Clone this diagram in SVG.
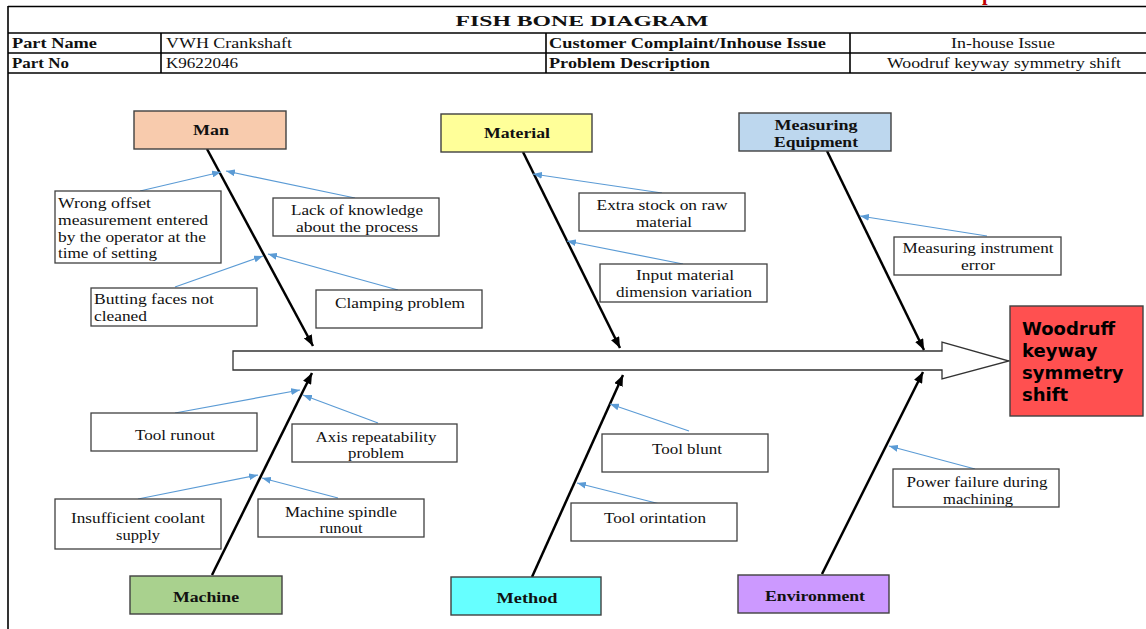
<svg xmlns="http://www.w3.org/2000/svg" width="1146" height="629" viewBox="0 0 1146 629">
<style>
.frame{stroke:#000;stroke-width:1.6;fill:none}
.t{font-family:"Liberation Serif","Times New Roman",serif;font-size:15px;fill:#111}
.b{font-weight:bold}
.m{text-anchor:middle}
.cat{stroke:#404040;stroke-width:1.4}
.box{fill:#fff;stroke:#404040;stroke-width:1.3}
.bone{stroke:#000;stroke-width:2.5;fill:none;marker-end:url(#ab)}
.sub{stroke:#5B9BD5;stroke-width:1.2;fill:none;marker-end:url(#as)}
.eff{font-family:"DejaVu Sans",Verdana,sans-serif;font-weight:bold;font-size:18px;fill:#000}
</style>
<defs>
<marker id="ab" markerUnits="userSpaceOnUse" markerWidth="11" markerHeight="9" refX="11" refY="4.5" orient="auto"><path d="M0,0 L11,4.5 L0,9 z" fill="#000"/></marker>
<marker id="as" markerUnits="userSpaceOnUse" markerWidth="9" markerHeight="7" refX="9" refY="3.5" orient="auto"><path d="M0,0 L9,3.5 L0,7 z" fill="#5B9BD5"/></marker>
</defs>
<rect width="1146" height="629" fill="#fff"/>
<text x="982" y="0" font-family="Liberation Serif,serif" font-weight="bold" font-size="20" fill="#C00000">p</text>
<g id="header">
<line class="frame" x1="8" y1="6.5" x2="1146" y2="6.5"/>
<line class="frame" x1="8" y1="33" x2="1146" y2="33"/>
<line class="frame" x1="8" y1="53" x2="1146" y2="53"/>
<line class="frame" x1="8" y1="73" x2="1146" y2="73"/>
<line class="frame" x1="8" y1="6" x2="8" y2="629"/>
<line class="frame" x1="161" y1="33" x2="161" y2="73"/>
<line class="frame" x1="546" y1="33" x2="546" y2="73"/>
<line class="frame" x1="850" y1="33" x2="850" y2="73"/>
<text class="t b m" x="582" y="26" font-size="18" textLength="253" lengthAdjust="spacingAndGlyphs">FISH  BONE  DIAGRAM</text>
<text class="t b" x="12" y="48" textLength="85" lengthAdjust="spacingAndGlyphs">Part Name</text>
<text class="t" x="166" y="48" textLength="126" lengthAdjust="spacingAndGlyphs">VWH Crankshaft</text>
<text class="t b" x="549" y="48" textLength="277" lengthAdjust="spacingAndGlyphs">Customer Complaint/Inhouse Issue</text>
<text class="t m" x="1003" y="48" textLength="104" lengthAdjust="spacingAndGlyphs">In-house Issue</text>
<text class="t b" x="12" y="68" textLength="57" lengthAdjust="spacingAndGlyphs">Part No</text>
<text class="t" x="166" y="68" textLength="72" lengthAdjust="spacingAndGlyphs">K9622046</text>
<text class="t b" x="549" y="68" textLength="161" lengthAdjust="spacingAndGlyphs">Problem Description</text>
<text class="t m" x="1004" y="68" textLength="234" lengthAdjust="spacingAndGlyphs">Woodruf keyway symmetry shift</text>
</g>
<g id="spine">
<path d="M233,351 H942 V342 L1009,361 L942,379 V370 H233 Z" fill="#fff" stroke="#333" stroke-width="1.3"/>
</g>
<g id="effect">
<rect x="1010" y="306" width="133" height="110" fill="#FF5050" stroke="#404040" stroke-width="1.4"/>
<text class="eff" x="1022" y="335">Woodruff</text>
<text class="eff" x="1022" y="357">keyway</text>
<text class="eff" x="1022" y="379">symmetry</text>
<text class="eff" x="1022" y="401">shift</text>
</g>
<g id="connectors">
<path class="bone" d="M207,149 L313,346"/>
<path class="bone" d="M523,152 L620,348"/>
<path class="bone" d="M827,151 L924,350"/>
<path class="bone" d="M212,575 L312,373"/>
<path class="bone" d="M532,577 L623,375"/>
<path class="bone" d="M822,574 L923,372"/>
<path class="sub" d="M140,191 L221,172"/>
<path class="sub" d="M355,198 L226,171"/>
<path class="sub" d="M175,287 L263,256"/>
<path class="sub" d="M398,290 L268,254"/>
<path class="sub" d="M662,193 L533,174"/>
<path class="sub" d="M683,264 L567,241"/>
<path class="sub" d="M987,236 L860,216"/>
<path class="sub" d="M175,413 L300,390"/>
<path class="sub" d="M378,423 L303,395"/>
<path class="sub" d="M138,499 L258,475"/>
<path class="sub" d="M338,498 L262,478"/>
<path class="sub" d="M689,431 L610,404"/>
<path class="sub" d="M660,504 L577,483"/>
<path class="sub" d="M975,469 L889,446"/>
</g>
<g id="cat-man"><rect class="cat" x="134" y="111" width="152" height="38" fill="#F8CBAD"/><text class="t b m" x="211" y="135" textLength="36" lengthAdjust="spacingAndGlyphs">Man</text></g>
<g id="cat-material"><rect class="cat" x="441" y="114" width="151" height="38" fill="#FFFF99"/><text class="t b m" x="517" y="138" textLength="66" lengthAdjust="spacingAndGlyphs">Material</text></g>
<g id="cat-measuring"><rect class="cat" x="739" y="113" width="152" height="38" fill="#BDD7EE"/><text class="t b m" x="816" y="130" textLength="83" lengthAdjust="spacingAndGlyphs">Measuring</text><text class="t b m" x="816" y="147" textLength="84" lengthAdjust="spacingAndGlyphs">Equipment</text></g>
<g id="cat-machine"><rect class="cat" x="130" y="576" width="152" height="38" fill="#A9D18E"/><text class="t b m" x="206" y="602" textLength="66" lengthAdjust="spacingAndGlyphs">Machine</text></g>
<g id="cat-method"><rect class="cat" x="451" y="577" width="150" height="38" fill="#66FFFF"/><text class="t b m" x="527" y="603" textLength="61" lengthAdjust="spacingAndGlyphs">Method</text></g>
<g id="cat-environment"><rect class="cat" x="738" y="575" width="151" height="38" fill="#CC99FF"/><text class="t b m" x="815" y="601" textLength="100" lengthAdjust="spacingAndGlyphs">Environment</text></g>
<g id="c-wrong-offset"><rect class="box" x="55" y="191" width="166" height="72"/>
<text class="t" x="58" y="208" textLength="93" lengthAdjust="spacingAndGlyphs">Wrong offset</text>
<text class="t" x="58" y="225" textLength="150" lengthAdjust="spacingAndGlyphs">measurement entered</text>
<text class="t" x="58" y="242" textLength="148" lengthAdjust="spacingAndGlyphs">by the operator at the</text>
<text class="t" x="58" y="258" textLength="99" lengthAdjust="spacingAndGlyphs">time of setting</text></g>
<g id="c-lack"><rect class="box" x="273" y="198" width="166" height="38"/>
<text class="t m" x="357" y="215" textLength="132" lengthAdjust="spacingAndGlyphs">Lack of knowledge</text>
<text class="t m" x="357" y="232" textLength="122" lengthAdjust="spacingAndGlyphs">about the process</text></g>
<g id="c-butting"><rect class="box" x="91" y="288" width="166" height="38"/>
<text class="t" x="94" y="304" textLength="120" lengthAdjust="spacingAndGlyphs">Butting faces not</text>
<text class="t" x="94" y="321" textLength="53" lengthAdjust="spacingAndGlyphs">cleaned</text></g>
<g id="c-clamping"><rect class="box" x="316" y="290" width="166" height="38"/>
<text class="t m" x="400" y="308" textLength="130" lengthAdjust="spacingAndGlyphs">Clamping problem</text></g>
<g id="c-extra"><rect class="box" x="579" y="193" width="166" height="38"/>
<text class="t m" x="662" y="210" textLength="131" lengthAdjust="spacingAndGlyphs">Extra stock on raw</text>
<text class="t m" x="664" y="227" textLength="56" lengthAdjust="spacingAndGlyphs">material</text></g>
<g id="c-input"><rect class="box" x="600" y="264" width="167" height="38"/>
<text class="t m" x="685" y="280" textLength="98" lengthAdjust="spacingAndGlyphs">Input material</text>
<text class="t m" x="684" y="297" textLength="136" lengthAdjust="spacingAndGlyphs">dimension variation</text></g>
<g id="c-instrument"><rect class="box" x="894" y="237" width="167" height="38"/>
<text class="t m" x="978" y="253" textLength="151" lengthAdjust="spacingAndGlyphs">Measuring instrument</text>
<text class="t m" x="978" y="270" textLength="34" lengthAdjust="spacingAndGlyphs">error</text></g>
<g id="c-tool-runout"><rect class="box" x="91" y="413" width="166" height="38"/>
<text class="t m" x="175" y="440" textLength="80" lengthAdjust="spacingAndGlyphs">Tool runout</text></g>
<g id="c-axis"><rect class="box" x="292" y="424" width="165" height="38"/>
<text class="t m" x="376" y="442" textLength="121" lengthAdjust="spacingAndGlyphs">Axis repeatability</text>
<text class="t m" x="376" y="458" textLength="56" lengthAdjust="spacingAndGlyphs">problem</text></g>
<g id="c-coolant"><rect class="box" x="55" y="499" width="166" height="50"/>
<text class="t m" x="138" y="523" textLength="134" lengthAdjust="spacingAndGlyphs">Insufficient coolant</text>
<text class="t m" x="138" y="540" textLength="44" lengthAdjust="spacingAndGlyphs">supply</text></g>
<g id="c-spindle"><rect class="box" x="258" y="499" width="166" height="38"/>
<text class="t m" x="341" y="517" textLength="112" lengthAdjust="spacingAndGlyphs">Machine spindle</text>
<text class="t m" x="341" y="533" textLength="43" lengthAdjust="spacingAndGlyphs">runout</text></g>
<g id="c-blunt"><rect class="box" x="602" y="434" width="166" height="38"/>
<text class="t m" x="687" y="454" textLength="70" lengthAdjust="spacingAndGlyphs">Tool blunt</text></g>
<g id="c-orintation"><rect class="box" x="571" y="503" width="166" height="38"/>
<text class="t m" x="655" y="523" textLength="102" lengthAdjust="spacingAndGlyphs">Tool orintation</text></g>
<g id="c-power"><rect class="box" x="893" y="469" width="166" height="38"/>
<text class="t m" x="977" y="487" textLength="141" lengthAdjust="spacingAndGlyphs">Power failure during</text>
<text class="t m" x="978" y="504" textLength="70" lengthAdjust="spacingAndGlyphs">machining</text></g>
</svg>
